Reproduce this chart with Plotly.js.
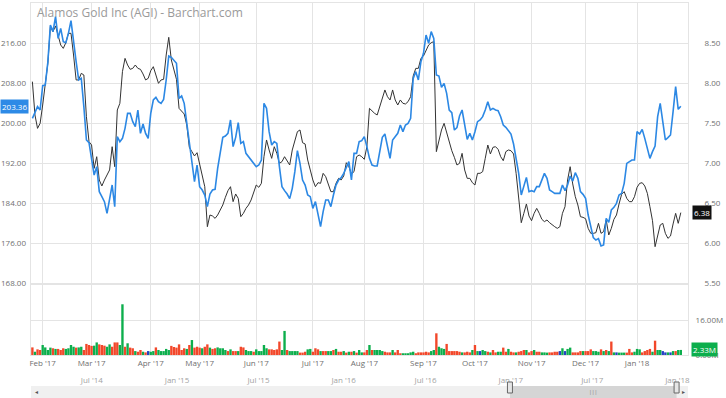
<!DOCTYPE html>
<html><head><meta charset="utf-8">
<script src="https://cdn.plot.ly/plotly-3.0.1.min.js"></script>
<style>html,body{margin:0;padding:0;background:#fff}#chart{width:726px;height:398px}</style>
</head><body><div id="chart"></div>
<script>
// Comparison line (left axis)
const compareVals = [200.93,202.27,203.27,202.6,207.47,207.6,212.13,219.6,218.27,221.27,
216.93,218.93,216.27,216.07,217.93,220.47,215.93,212.27,208.6,208.93,
203.27,196.6,196.07,192.93,189.6,191.27,186.27,185.27,184.27,181.93,
184.6,187.6,183.27,197.27,196.27,196.93,198.93,201.93,201.93,200.27,
199.27,202.6,197.93,199.8,197.93,196.93,201.93,204.6,205.13,204.27,
203.93,204.73,208.6,213.4,213.13,212.47,211.93,204.93,205.4,203.93,
199.93,195.27,192.27,188.27,191.6,187.27,186.6,185.6,183.27,185.8,
186.6,186.73,190.93,194.47,197.13,197.4,197.93,200.6,195.27,197.13,
200.07,195.93,196.27,193.93,193.27,192.6,191.8,191.27,191.6,192.6,
203.93,202.93,198.27,195.6,196.27,195.93,191.27,187.27,186.47,185.8,
184.87,186.93,190.27,194.47,191.93,188.6,187.6,185.6,185.27,182.93,
184.27,181.93,179.27,182.27,184.6,184.6,183.27,185.6,187.6,188.6,
189.07,189.93,191.27,192.27,188.6,193.93,193.93,196.27,196.47,197.27,
195.27,192.93,191.6,191.4,191.4,194.6,197.13,197.8,195.27,192.93,
196.6,197.4,197.93,199.6,198.27,199.6,199.93,200.93,208.93,210.27,
208.6,212.27,213.93,217.6,215.93,218.27,216.93,209.6,209.4,207.13,
207.93,205.93,202.6,202.07,198.6,199.07,201.4,202.6,199.27,196.73,
197.93,196.6,198.27,200.27,200.6,201.27,202.6,204.27,202.6,202.93,
202.6,202.47,201.27,199.6,199.13,198.47,197.8,195.8,192.6,189.93,
185.6,187.27,189.13,186.27,186.47,186.27,187.27,187.27,188.6,189.93,
188.93,186.6,186.27,185.93,185.93,185.93,187.6,186.47,187.6,189.4,
188.4,190.07,188.93,186.27,185.73,184.93,181.6,179.27,177.07,176.6,
176.87,175.4,175.6,180.93,180.13,182.6,183.13,183.93,185.6,185.93,
187.93,191.93,192.27,192.6,192.6,198.27,197.8,198.73,196.93,194.93,
192.93,194.27,195.4,201.27,203.93,200.27,196.6,197.07,197.6,202.27,
207.27,202.73,203.36];

// AGI close (right axis)
const agiVals = [8.017,7.6,7.433,7.496,7.725,7.975,8.246,8.704,8.642,8.713,
8.579,8.475,8.433,8.504,8.621,8.621,8.35,8.038,8.038,8.121,
8.1,7.579,7.267,7.225,6.933,7.079,6.787,6.713,6.787,6.85,
6.913,7.204,6.954,7.663,7.746,8.142,8.308,8.225,8.171,8.183,
8.225,8.183,8.171,8.113,8.038,8.058,8.154,8.204,8.1,7.996,
8.038,8.046,8.35,8.571,8.288,8.163,8.046,7.683,7.654,7.613,
7.475,7.196,7.142,7.088,7.129,6.996,6.85,6.704,6.204,6.35,
6.338,6.308,6.35,6.413,6.475,6.571,6.654,6.704,6.517,6.613,
6.558,6.329,6.371,6.433,6.475,6.538,6.642,6.725,6.696,6.746,
7.079,7.288,7.163,7.058,7.204,7.121,6.996,7.017,7.079,7.029,
6.975,7.163,7.267,7.392,7.413,7.254,7.238,7.038,6.913,6.788,
6.704,6.754,6.746,6.871,6.829,6.746,6.642,6.642,6.746,6.808,
6.788,6.838,7.004,6.954,6.863,6.892,7.079,7.1,7.079,7.046,
7.204,7.683,7.65,7.621,7.6,7.704,7.829,7.913,7.829,7.788,
7.913,7.788,7.725,7.788,7.746,7.738,7.767,7.829,8.088,8.183,
8.183,8.308,8.338,8.413,8.475,8.504,8.517,7.142,7.288,7.413,
7.496,7.371,7.254,7.154,7.071,6.975,6.996,7.121,6.913,6.808,
6.808,6.754,6.725,6.871,6.871,6.892,7.058,7.225,7.113,7.196,
7.204,7.171,7.079,7.029,7.142,7.163,7.154,7.113,6.871,6.558,
6.254,6.371,6.488,6.338,6.279,6.371,6.433,6.371,6.296,6.267,
6.288,6.254,6.225,6.204,6.183,6.204,6.371,6.454,6.788,6.954,
6.738,6.579,6.475,6.329,6.321,6.304,6.183,6.121,6.121,6.129,
6.246,6.121,6.142,6.288,6.1,6.183,6.296,6.35,6.488,6.608,
6.642,6.558,6.517,6.517,6.579,6.696,6.746,6.754,6.713,6.621,
6.454,6.279,5.954,6.113,6.225,6.246,6.121,6.058,6.088,6.238,
6.371,6.246,6.38];

// Volume in millions
const volumeM = [3.5,1.5,2.6,2.3,4.6,3.5,2.3,3.4,3.1,2.8,
2.8,2.3,3.1,2.8,3.1,4.6,3.8,3.4,3.5,3.8,
2.3,5.1,4.6,4.2,4.3,5.8,4.9,4.6,4.3,3.8,
4.9,3.8,5.8,5.8,4.6,23.4,3.8,5.4,3.4,3.1,
1.8,1.5,2.3,1.5,1.2,1.8,1.5,1.8,3.5,2.3,
1.8,1.8,2.8,2.3,4.2,3.7,3.4,4.9,2.3,3.1,
2.8,4.6,6.9,3.4,3.8,3.4,3.1,3.8,4.9,3.4,
2.8,3.1,3.5,3.1,3.1,2.3,1.8,2.6,1.8,1.8,
1.8,3.8,3.5,2.3,1.8,1.8,1.5,2.6,1.8,1.8,
4.6,3.1,2.6,2.6,2.3,2.6,6.2,2.3,11.1,2.3,
1.8,1.8,1.8,1.8,1.1,1.1,1.5,2.6,2.8,1.5,
3.1,2.6,1.8,1.8,1.8,1.8,1.8,2.3,2.8,1.5,
1.5,1.8,1.1,1.5,1.5,1.8,1.1,2.3,1.2,1.2,
2.3,4.6,2.3,2.3,2.3,2.3,1.8,1.5,1.2,1.2,
2.3,1.2,2.3,0.8,0.8,0.8,0.8,1.2,1.5,0.8,
1.2,1.2,1.2,1.5,1.2,1.8,2.3,10.0,3.8,3.1,
2.8,5.1,1.8,1.8,1.8,1.8,1.5,1.2,1.2,1.5,
1.2,2.3,4.6,1.8,1.8,2.3,1.8,1.5,1.2,2.3,
1.2,1.5,1.5,3.4,1.5,2.8,1.5,1.2,1.2,1.5,
1.8,2.3,2.3,1.2,1.8,2.3,1.5,1.5,1.2,1.2,
1.1,1.2,1.2,1.5,1.5,1.8,3.1,1.8,2.8,3.4,
1.2,1.2,1.2,1.8,1.8,1.8,1.8,2.6,1.8,1.8,
1.5,2.6,1.8,2.3,1.8,6.2,1.2,1.2,1.1,1.1,
1.1,1.1,2.8,1.2,1.5,2.8,2.6,1.2,1.8,2.3,
2.8,1.5,6.6,2.3,2.3,1.8,1.2,1.2,1.2,1.8,
1.8,2.3,2.33];

// Volume bar direction: g = up, r = down, b = unchanged
const volDir = "rgrrggggrg" + "rrrggggrgg" + "rrrrggrrrg" + "grrrggrgrr" + "grrgrbggrg" +
  "ggggrrrrrr" + "grgrrrgrrg" + "rrggggrgrr" + "grrgggrggg" + "ggrrrrrggr" +
  "ggggrrrggr" + "rrgrrggrgr" + "rgrgrgrggr" + "rgrggggrrr" + "grrrgggggr" +
  "rrrrrggrgg" + "grrrrrrgrr" + "rgrgbggrgr" + "rggrrgrrgr" + "rrgrrgrrgg" +
  "grrrrbgbgg" + "rrrrgrrrgg" + "grgrgrgbgg" + "grrrgggrrr" + "rgrggbbgbg" + "rgg";

// Month axis (trading-day index of first session) and labels
const monthIdx = [4,23,46,65,87,109,129,152,172,194,215,235];
const monthLabels = ["Feb '17","Mar '17","Apr '17","May '17","Jun '17","Jul '17","Aug '17","Sep '17","Oct '17","Nov '17","Dec '17","Jan '18"];
const leftTicks = [168,176,184,192,200,208,216];
const rightTicks = [5.5,6,6.5,7,7.5,8,8.5];
const volTicks = [0,16];
const navTickDates = ['2014-07-01','2015-01-01','2015-07-01','2016-01-01','2016-07-01','2017-01-01','2017-07-01','2018-01-01'];
const navTickLabels = ["Jul '14","Jan '15","Jul '15","Jan '16","Jul '16","Jan '17","Jul '17","Jan '18"];
const navRange = ['2014-03-14','2018-02-20'];
const windowStart = '2017-01-26', windowEnd = '2018-01-26';

const idx = compareVals.map((_, i) => i);
const dirColor = {g:'#0cae4c', r:'#f2472a', b:'#2541c4'};
const barColors = volDir.split('').map(c => dirColor[c]);
const last = a => a[a.length - 1];

const gridC = '#e4e4e4';
const tickFont = {family:'Open Sans', size:8, color:'#6f6f6f'};

const traces = [
  {type:'scatter', mode:'lines', x:idx, y:agiVals, xaxis:'x', yaxis:'y',
   line:{color:'#333333', width:1}, hoverinfo:'skip'},
  {type:'scatter', mode:'lines', x:idx, y:compareVals, xaxis:'x', yaxis:'y2',
   line:{color:'#2c88e4', width:1.6}, hoverinfo:'skip'},
  {type:'bar', x:idx, y:volumeM, xaxis:'x2', yaxis:'y3',
   marker:{color:barColors, line:{width:0}}, hoverinfo:'skip'},
  {type:'scatter', mode:'markers', x:[], y:[], xaxis:'x3', yaxis:'y4', hoverinfo:'skip'}
];

const midMs = (new Date(windowStart).getTime() + new Date(windowEnd).getTime()) / 2;
const midDate = new Date(midMs).toISOString().slice(0,10);

const layout = {
  width:726, height:398,
  margin:{l:31, r:38, t:3, b:0},
  paper_bgcolor:'#ffffff', plot_bgcolor:'#ffffff',
  showlegend:false, hovermode:false,
  font:{family:'Open Sans'},
  bargap:0.08,
  title:{text:'Alamos Gold Inc (AGI) - Barchart.com', xref:'container', yref:'container',
         x:37/726, xanchor:'left', y:1-13/398, yanchor:'middle',
         font:{family:'Open Sans', size:12, color:'#9a9a9a'}},
  xaxis:{domain:[0,1], anchor:'y', range:[-0.54,254.8], tickvals:monthIdx, showticklabels:false,
         ticks:'', showgrid:true, gridcolor:gridC, zeroline:false, showline:true, mirror:true, linecolor:gridC},
  yaxis:{domain:[0.2911,1], anchor:'x', side:'right', range:[5.5,9], tickvals:rightTicks, tickformat:'.2f',
         showgrid:true, gridcolor:gridC, zeroline:false, ticks:'', tickfont:tickFont, ticklabelstandoff:14,
         showline:true, mirror:true, linecolor:gridC},
  yaxis2:{overlaying:'y', side:'left', range:[168,224], tickvals:leftTicks, tickformat:'.2f',
          showgrid:false, zeroline:false, ticks:'', tickfont:tickFont, ticklabelstandoff:4},
  xaxis2:{domain:[0,1], anchor:'y3', matches:'x', tickvals:monthIdx, ticktext:monthLabels, ticks:'',
          showgrid:true, gridcolor:gridC, zeroline:false, showline:true, mirror:true, linecolor:gridC, tickfont:tickFont},
  yaxis3:{domain:[0.1089,0.2861], anchor:'x2', side:'right', range:[0,32.3], tickvals:volTicks,
          ticktext:volTicks.map(v => v.toFixed(2) + 'M'), showgrid:true, gridcolor:gridC, zeroline:false,
          ticks:'', tickfont:tickFont, ticklabelstandoff:5, showline:true, mirror:true, linecolor:gridC},
  xaxis3:{domain:[0,1], anchor:'y4', type:'date', range:navRange, tickvals:navTickDates, ticktext:navTickLabels,
          side:'top', ticklabelposition:'outside right', showgrid:false, zeroline:false, showline:false, ticks:'',
          tickfont:{family:'Open Sans', size:8, color:'#a3a3a3'}},
  yaxis4:{domain:[0,0.0304], anchor:'x3', range:[0,1], visible:false},
  shapes:[
    {type:'rect', xref:'paper', yref:'paper', x0:0, x1:1, y0:0, y1:0.0304, fillcolor:'#f0f0f0', line:{width:0}},
    {type:'rect', xref:'x3', yref:'paper', x0:windowStart, x1:windowEnd, y0:0, y1:0.0304, fillcolor:'#d5d5d5', line:{width:0}},
    {type:'rect', xref:'x3', xsizemode:'pixel', xanchor:windowStart, x0:-2.5, x1:2.5,
     yref:'paper', ysizemode:'pixel', yanchor:0.0304, y0:-7, y1:4, fillcolor:'#e6e6e6', line:{color:'#666', width:1}},
    {type:'rect', xref:'x3', xsizemode:'pixel', xanchor:windowEnd, x0:-2.5, x1:2.5,
     yref:'paper', ysizemode:'pixel', yanchor:0.0304, y0:-7, y1:4, fillcolor:'#e6e6e6', line:{color:'#666', width:1}}
  ],
  annotations:[
    {xref:'paper', yref:'y2', x:0, y:last(compareVals), xanchor:'right', yanchor:'middle', xshift:-2,
     text:last(compareVals).toFixed(2), showarrow:false, bgcolor:'#2d8ae6', borderpad:1,
     font:{family:'Open Sans', size:8, color:'#ffffff'}},
    {xref:'paper', yref:'y', x:1, y:last(agiVals), xanchor:'left', yanchor:'middle', xshift:4,
     text:last(agiVals).toFixed(2), showarrow:false, bgcolor:'#111111', borderpad:1,
     font:{family:'Open Sans', size:8, color:'#ffffff'}},
    {xref:'paper', yref:'y3', x:1, y:last(volumeM), xanchor:'left', yanchor:'middle', xshift:3,
     text:last(volumeM).toFixed(2) + 'M', showarrow:false, bgcolor:'#0cae4c', borderpad:1,
     font:{family:'Open Sans', size:8, color:'#ffffff'}},
    {xref:'x3', yref:'paper', x:midDate, y:0, yanchor:'bottom', yshift:1, text:'|||', showarrow:false,
     font:{family:'Open Sans', size:5, color:'#777'}},
    {xref:'paper', yref:'paper', x:0, y:0, yanchor:'bottom', xanchor:'left', xshift:2, yshift:1, text:'◂', showarrow:false,
     font:{family:'DejaVu Sans', size:6, color:'#555'}},
    {xref:'paper', yref:'paper', x:1, y:0, yanchor:'bottom', xanchor:'right', xshift:-1, yshift:1, text:'▸', showarrow:false,
     font:{family:'DejaVu Sans', size:6, color:'#555'}}
  ]
};

Plotly.newPlot('chart', traces, layout, {staticPlot:true, displayModeBar:false});
</script>
</body></html>
